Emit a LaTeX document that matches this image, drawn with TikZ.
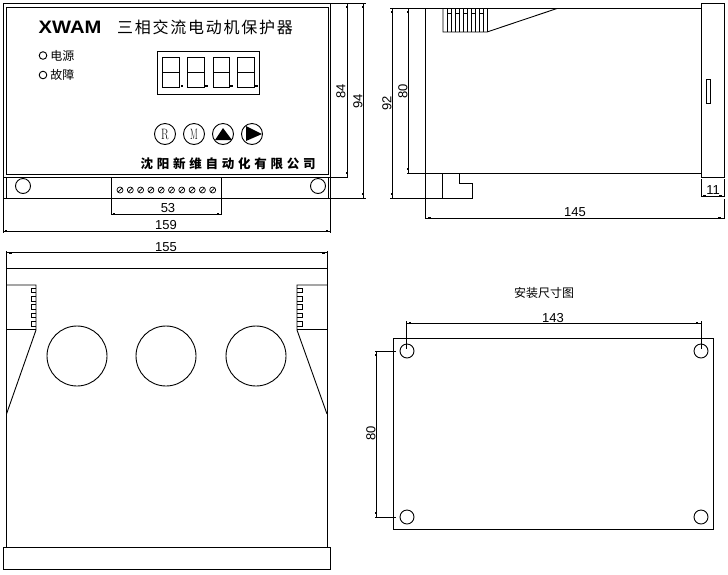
\documentclass[tikz,border=0pt]{standalone}
\usepackage{fontspec}
\setmainfont{Liberation Sans}
\newfontfamily\cjk{Noto Sans CJK SC}
\newcommand{\ticksq}[1]{\fill (#1) +(-1.3,-1.3) rectangle +(1.3,1.3);}
\tikzset{
  part/.style={line width=0.9pt},
  dimline/.style={line width=0.8pt},
  dimtext/.style={inner sep=0pt, font=\fontsize{13}{13}\selectfont},
  cjktext/.style={inner sep=0pt, font=\cjk\fontsize{12}{12}\selectfont},
}
\begin{document}
\begin{tikzpicture}[x=1pt, y=-1pt, part]
        \useasboundingbox (0,0) rectangle (728,574);

        % Front panel
        \draw (3,3) rectangle (330,177);
        \draw (6,7) rectangle (328,174);
        \draw (3,177) rectangle (330,198);
        \draw (6,177) -- (6,198);
        \draw (328,177) -- (328,198);
        \draw (23,186) circle (7.5);
        \draw (318,186) circle (7.5);

        % Title and lamps
        \node[inner sep=0pt, xscale=1.12, font=\bfseries\fontsize{18}{18}\selectfont] (title) at (70,27) {XWAM};
        \node[inner sep=0pt, font=\cjk\fontsize{16}{16}\selectfont\addfontfeature{LetterSpace=11}] (name) at (205,27) {三相交流电动机保护器};
        \draw (43,55.5) circle (3.8);
        \draw (43,75) circle (3.8);
        \node[cjktext, anchor=west] (power) at (50,56) {电源};
        \node[cjktext, anchor=west] (fault) at (50,75) {故障};

        % Display
        \draw (157,51) rectangle (259,94);
        \foreach \xa/\xb in {162/179.5, 187/204, 213/229, 237/254} {
          \draw (\xa,57) rectangle (\xb,87);
          \draw (\xa,72) -- (\xb,72);
          \fill (\xb+1,84.5) rectangle (\xb+3.5,87);
        }

        % Buttons
        \foreach \x in {165,194,223,252} \draw (\x,134) circle (10.5);
        \node[inner sep=0pt, xscale=0.75, font=\fontfamily{lmr}\fontsize{15}{15}\selectfont] (btnr) at (165,134) {R};
        \node[inner sep=0pt, xscale=0.6, font=\fontfamily{lmr}\fontsize{15}{15}\selectfont] (btnm) at (194,134) {M};
        \fill (223,128) -- (232,140) -- (215,140) -- cycle;
        \fill (246,126) -- (262,134) -- (246,141) -- cycle;
        \node[inner sep=0pt, font=\cjk\bfseries\fontsize{12.5}{13}\selectfont\addfontfeature{LetterSpace=30}] (maker) at (228,164) {沈阳新维自动化有限公司};

        % Terminal block
        \draw (111,177) -- (111,215);
        \draw (221,177) -- (221,215);
        \foreach \i in {0,...,9} {
          \draw[line width=0.7pt] (120+10.3*\i,190) circle (3);
          \draw[line width=0.7pt] (118+10.3*\i,192) -- (122+10.3*\i,188);
        }

        % Front panel dimensions
        \draw[dimline] (111,214) -- (221,214);
        \node[dimtext] (w53) at (168,208) {53};
        \draw[dimline] (3,198) -- (3,233);
        \draw[dimline] (330,198) -- (330,233);
        \draw[dimline] (3,231) -- (330,231);
        \node[dimtext] (w159) at (166,225) {159};
        \draw[dimline] (330,3) -- (366,3);
        \draw[dimline] (330,177) -- (348,177);
        \draw[dimline] (330,198) -- (366,198);
        \draw[dimline] (347,3) -- (347,177);
        \draw[dimline] (363,3) -- (363,198);
        \node[dimtext, rotate=90] (h84) at (341,91) {84};
        \node[dimtext, rotate=90] (h94) at (358,101) {94};
        \foreach \p in {{114,214},{218,214},{6,231},{327,231},{347,7},{347,173},{363,7},{363,194}} {
          \ticksq{\p}
        }

        % Side view
        \draw (425,8.5) -- (425,219);
        \draw (390,8.5) -- (701,8.5);
        \draw (407,173) -- (701,173);
        \draw (701,3) rectangle (724,177);
        \draw (706,79) rectangle (710.5,103);
        \draw (442,173) -- (442,198);
        \draw (390,198) -- (472,198) -- (472,183) -- (459,183) -- (459,173);

        % Connector on the side view
        \draw (443,8.5) -- (443,32) -- (487,32) -- (557,8.5);
        \foreach \i in {1,...,11} \draw[line width=0.7pt] (443+4.05*\i,8.5) -- (443+4.05*\i,32);
        \foreach \i in {1,3,5,7,9} \draw[line width=0.7pt] (443+4.05*\i,13) -- (447.05+4.05*\i,13);

        % Side view dimensions
        \draw[dimline] (392,8.5) -- (392,198);
        \draw[dimline] (408,8.5) -- (408,173);
        \node[dimtext, rotate=90] (h92) at (387,103) {92};
        \node[dimtext, rotate=90] (h80) at (403,91) {80};
        \draw[dimline] (701,179) -- (701,197);
        \draw[dimline] (724,179) -- (724,197);
        \draw[dimline] (701,196) -- (724,196);
        \node[dimtext] (d11) at (713,190) {11};
        \draw[dimline] (724,199) -- (724,219);
        \draw[dimline] (425,218) -- (724,218);
        \node[dimtext] (d145) at (575,212) {145};
        \foreach \p in {{392,12},{392,194},{408,12},{408,169}} {
          \ticksq{\p}
        }
        \draw[line width=1.2pt] (428,218) -- (431,218);
        \draw[line width=1.2pt] (718,218) -- (721,218);
        \draw[line width=1.2pt] (703,196) -- (706,196);
        \draw[line width=1.2pt] (719,196) -- (722,196);

        % Rear view
        \draw (6.5,251) -- (6.5,547);
        \draw (327,251) -- (327,547);
        \draw (6.5,268) -- (327,268);
        \draw (3,547) rectangle (330,569);
        \draw (6.5,285) -- (36,285) -- (36,330) -- (6.5,414);
        \draw (6.5,329) -- (36,329);
        \draw (327,285) -- (297,285) -- (297,330) -- (327,414);
        \draw (327,329) -- (297,329);
        \foreach \i in {0,...,4} {
          \draw[line width=0.7pt] (36,288+8.4*\i) -- (31,288+8.4*\i) -- (31,292.5+8.4*\i) -- (36,292.5+8.4*\i);
          \draw[line width=0.7pt] (297,288+8.4*\i) -- (302,288+8.4*\i) -- (302,292.5+8.4*\i) -- (297,292.5+8.4*\i);
        }
        \foreach \x in {77,166,256} \draw (\x,356) circle (30);

        % Rear view dimension
        \draw[dimline] (6.5,252.5) -- (327,252.5);
        \node[dimtext] (w155) at (166,247) {155};
        \draw[line width=1.2pt] (9,253) -- (12,253);
        \draw[line width=1.2pt] (322,253) -- (325,253);

        % Mounting plan
        \node[cjktext] (plan) at (544,293) {安装尺寸图};
        \draw (393,338) rectangle (713,529);
        \foreach \x in {407,701} \foreach \y in {351,517} \draw (\x,\y) circle (7);

        % Mounting dimensions
        \draw[dimline] (406,321) -- (406,349);
        \draw[dimline] (701.5,321) -- (701.5,349);
        \draw[dimline] (406,323) -- (701.5,323);
        \node[dimtext] (w143) at (553,318) {143};
        \draw[dimline] (375,351) -- (396,351);
        \draw[dimline] (375,517) -- (396,517);
        \draw[dimline] (376,351) -- (376,517);
        \node[dimtext, rotate=90] (h80b) at (371,433) {80};
        \foreach \p in {{410,323},{697,323},{376,355},{376,513}} {
          \ticksq{\p}
        }
    \end{tikzpicture}
\end{document}
